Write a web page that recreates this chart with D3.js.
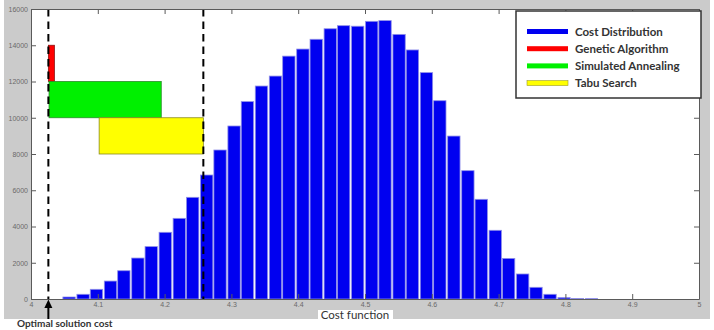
<!DOCTYPE html>
<html>
<head>
<meta charset="utf-8">
<script src="https://cdn.jsdelivr.net/npm/d3@7"></script>
<style>
    body { margin: 0; background: #fff; }
    svg { display: block; }
</style>
</head>
<body>
<div id="chart"></div>
<script>
// Histogram of the cost function (bin centres and counts).
const binCenters = [
    4.057, 4.078, 4.098, 4.119, 4.139, 4.160, 4.180, 4.201, 4.222, 4.242,
    4.263, 4.283, 4.304, 4.324, 4.345, 4.366, 4.386, 4.407, 4.427, 4.448,
    4.468, 4.489, 4.510, 4.530, 4.551, 4.571, 4.592, 4.612, 4.633, 4.654,
    4.674, 4.695, 4.715, 4.736, 4.756, 4.777, 4.798, 4.818, 4.839
];
const counts = [
    110, 260, 535, 990, 1560, 2260, 2890, 3680, 4450, 5610,
    6840, 8220, 9545, 10890, 11750, 12300, 13400, 13790, 14330, 14910,
    15080, 15050, 15320, 15360, 14600, 13740, 12490, 10940, 8990, 7080,
    5500, 3790, 2240, 1380, 645, 260, 75, 30, 20
];

// Cost ranges reached by each heuristic.
const algorithms = ['Genetic Algorithm', 'Simulated Annealing', 'Tabu Search'];
const algoFrom = [4.026, 4.027, 4.102];
const algoTo = [4.035, 4.195, 4.258];
const algoLow = [12000, 10000, 8000];
const algoHigh = [14000, 12000, 10000];

// Dashed markers: optimal cost and worst heuristic cost.
const markerCosts = [4.026, 4.258];

const xTicks = [4, 4.1, 4.2, 4.3, 4.4, 4.5, 4.6, 4.7, 4.8, 4.9, 5];
const xTickLabels = ['4', '4.1', '4.2', '4.3', '4.4', '4.5', '4.6', '4.7', '4.8', '4.9', '5'];
const yTicks = [0, 2000, 4000, 6000, 8000, 10000, 12000, 14000, 16000];

const legendLabels = ['Cost Distribution', 'Genetic Algorithm', 'Simulated Annealing', 'Tabu Search'];

const COLORS = {
    cost: '#0000f0',
    'Genetic Algorithm': '#ff0000',
    'Simulated Annealing': '#00f000',
    'Tabu Search': '#ffff00'
};
const STROKES = {
    'Genetic Algorithm': '#8a1010',
    'Simulated Annealing': '#2a8a2a',
    'Tabu Search': '#8a8a20'
};

const W = 714, H = 330;
const plot = { left: 31, right: 699, top: 9, bottom: 299 };
const binWidth = 0.0185;

const svg = d3.select('#chart')
    .append('svg')
    .attr('width', W)
    .attr('height', H)
    .style('font-family', '"Liberation Sans", Arial, sans-serif');

// Matlab-like grey figure background.
svg.append('rect')
    .attr('x', 4).attr('y', 0)
    .attr('width', 706).attr('height', 319)
    .attr('fill', '#cbcbcb');

svg.append('rect')
    .attr('x', plot.left).attr('y', plot.top)
    .attr('width', plot.right - plot.left)
    .attr('height', plot.bottom - plot.top)
    .attr('fill', '#fff');

const x = d3.scaleLinear().domain([4, 5]).range([plot.left, plot.right]);
const y = d3.scaleLinear().domain([0, 16000]).range([plot.bottom, plot.top]);

// Histogram bars.
svg.append('g')
    .classed('bars', true)
    .selectAll('rect')
    .data(binCenters)
    .join('rect')
    .attr('x', (c) => x(c - binWidth / 2))
    .attr('width', (c) => x(c + binWidth / 2) - x(c - binWidth / 2))
    .attr('y', (c, i) => y(counts[i]))
    .attr('height', (c, i) => y(0) - y(counts[i]))
    .attr('fill', COLORS.cost)
    .attr('stroke', '#8f8fe8')
    .attr('stroke-width', 0.8);

// Ranges of the three heuristics.
svg.append('g')
    .classed('ranges', true)
    .selectAll('rect')
    .data(algorithms)
    .join('rect')
    .attr('x', (a, i) => x(algoFrom[i]))
    .attr('width', (a, i) => x(algoTo[i]) - x(algoFrom[i]))
    .attr('y', (a, i) => y(algoHigh[i]))
    .attr('height', (a, i) => y(algoLow[i]) - y(algoHigh[i]))
    .attr('fill', (a) => COLORS[a])
    .attr('stroke', (a) => STROKES[a])
    .attr('stroke-width', 0.8);

svg.append('g')
    .classed('markers', true)
    .selectAll('line')
    .data(markerCosts)
    .join('line')
    .attr('x1', (c) => x(c)).attr('x2', (c) => x(c))
    .attr('y1', plot.top).attr('y2', plot.bottom)
    .attr('stroke', '#000')
    .attr('stroke-width', 2)
    .attr('stroke-dasharray', '7.5,5');

// Axes with inward ticks on all four sides.
function styleAxis(g) {
    g.select('.domain').attr('stroke', '#5a5a5a');
    g.selectAll('.tick line').attr('stroke', '#5a5a5a');
    g.selectAll('.tick text').attr('fill', '#6a6a6a').style('font-size', '7px');
}

svg.append('g')
    .attr('transform', `translate(0,${plot.bottom})`)
    .call(d3.axisBottom(x).tickValues(xTicks)
        .tickFormat((d, i) => xTickLabels[i])
        .tickSizeInner(-5).tickSizeOuter(0).tickPadding(3))
    .call(styleAxis);

svg.append('g')
    .attr('transform', `translate(0,${plot.top})`)
    .call(d3.axisTop(x).tickValues(xTicks).tickFormat('')
        .tickSizeInner(-5).tickSizeOuter(0))
    .call(styleAxis);

svg.append('g')
    .attr('transform', `translate(${plot.left},0)`)
    .call(d3.axisLeft(y).tickValues(yTicks).tickFormat(d3.format('d'))
        .tickSizeInner(-5).tickSizeOuter(0).tickPadding(3))
    .call(styleAxis);

svg.append('g')
    .attr('transform', `translate(${plot.right},0)`)
    .call(d3.axisRight(y).tickValues(yTicks).tickFormat('')
        .tickSizeInner(-5).tickSizeOuter(0))
    .call(styleAxis);

// X axis title in its white box.
svg.append('rect')
    .attr('x', 318).attr('y', 310)
    .attr('width', 75).attr('height', 11)
    .attr('fill', '#fff');
svg.append('text')
    .attr('x', 355).attr('y', 319)
    .attr('text-anchor', 'middle')
    .attr('fill', '#333')
    .style('font-family', 'Lato, "Open Sans", sans-serif')
    .style('font-size', '11.5px')
    .text('Cost function');

// Arrow pointing at the optimal cost.
const ax = x(markerCosts[0]);
svg.append('line')
    .attr('x1', ax).attr('x2', ax)
    .attr('y1', 319).attr('y2', 304)
    .attr('stroke', '#000').attr('stroke-width', 2);
svg.append('path')
    .attr('d', `M${ax - 4},308 L${ax},299.5 L${ax + 4},308 Z`)
    .attr('fill', '#000');
svg.append('text')
    .attr('x', 17).attr('y', 327)
    .attr('fill', '#333')
    .style('font-family', 'Lato, "Open Sans", sans-serif')
    .style('font-weight', 'bold')
    .style('font-size', '10px')
    .text('Optimal solution cost');

// Legend.
const legend = svg.append('g').classed('legend', true);
legend.append('rect')
    .attr('x', 516).attr('y', 11)
    .attr('width', 185).attr('height', 87)
    .attr('fill', '#fff')
    .attr('stroke', '#333')
    .attr('stroke-width', 1.5);

const items = legend.selectAll('g')
    .data(legendLabels)
    .join('g')
    .attr('transform', (d, i) => `translate(527,${31.5 + i * 17.2})`);

items.append('rect')
    .attr('x', 0).attr('y', -2.5)
    .attr('width', 41).attr('height', 5)
    .attr('fill', (d, i) => i === 0 ? COLORS.cost : COLORS[d])
    .attr('stroke', (d, i) => i === 3 ? '#9a9a30' : 'none')
    .attr('stroke-width', 0.6);

items.append('text')
    .attr('x', 48).attr('y', 4)
    .attr('fill', '#333')
    .style('font-family', 'Lato, "Open Sans", sans-serif')
    .style('font-weight', 'bold')
    .style('font-size', '11.5px')
    .text((d) => d);
</script>
</body>
</html>
